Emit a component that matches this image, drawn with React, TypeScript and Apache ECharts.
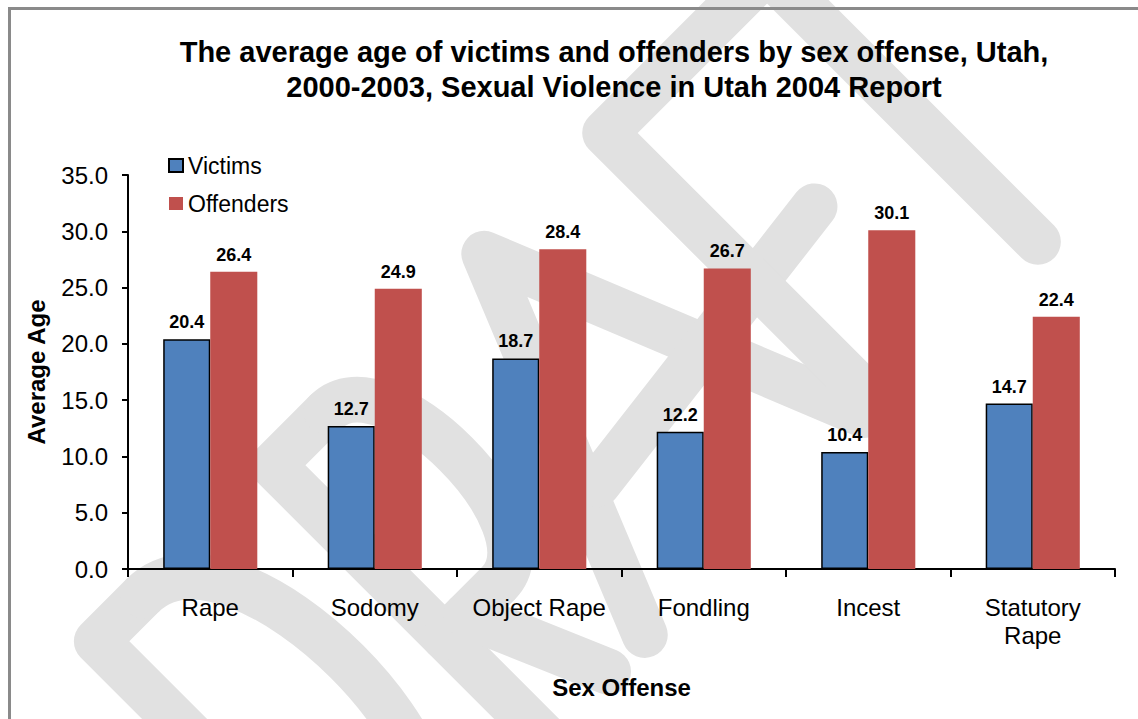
import React, { useEffect, useRef } from "react";
import * as echarts from "echarts";

// ---- data ----
const categories = ["Rape", "Sodomy", "Object Rape", "Fondling", "Incest", "Statutory\nRape"];
const victims = [20.4, 12.7, 18.7, 12.2, 10.4, 14.7];
const offenders = [26.4, 24.9, 28.4, 26.7, 30.1, 22.4];
const seriesNames = ["Victims", "Offenders"];
const yMin = 0;
const yMax = 35;
const yInterval = 5;
const titleText =
  "The average age of victims and offenders by sex offense, Utah,\n2000-2003, Sexual Violence in Utah 2004 Report";
const yAxisName = "Average Age";
const xAxisName = "Sex Offense";

const FONT = '"Liberation Sans", Arial, Helvetica, sans-serif';

// ---- watermark ("DRAFT", single-stroke letters, drawn in a rotated frame) ----
const YT = 522;
const YB = 905;
const WM = { stroke: "#e1e1e1", lineWidth: 46, lineCap: "round", lineJoin: "round", fill: null };

function wmPoly(points: number[][]) {
  return { type: "polyline", z: -10, silent: true, shape: { points }, style: WM };
}
function wmBez(x1: number, y1: number, cx1: number, cy1: number, cx2: number, cy2: number, x2: number, y2: number) {
  return {
    type: "bezierCurve",
    z: -10,
    silent: true,
    shape: { x1, y1, cpx1: cx1, cpy1: cy1, cpx2: cx2, cpy2: cy2, x2, y2 },
    style: WM,
  };
}

const watermarkChildren = [
  // D
  wmPoly([[-320, YT], [-385, YT], [-385, YB], [-320, YB]]),
  wmBez(-320, YT, -190, YT, -190, YB, -320, YB),
  // R
  wmPoly([[-136, YB], [-136, YT], [-60, YT]]),
  wmBez(-60, YT, 22, YT, 22, 765, -60, 765),
  wmPoly([[-60, 765], [-136, 765]]),
  wmPoly([[-105, 765], [-45, YB]]),
  // A
  wmPoly([[7, YB], [163, YT], [318, YB]]),
  wmPoly([[80, 765], [430, 722]]),
  // F + T
  wmPoly([[334, YB], [334, YT], [690, YT]]),
  wmPoly([[563, YT], [563, YB]]),
];

export default function App() {
  const ref = useRef<HTMLDivElement>(null);

  useEffect(() => {
    if (!ref.current) return;
    const chart = echarts.init(ref.current, null, { renderer: "svg" });

    const valueLabel = {
      show: true,
      position: "top",
      distance: 8,
      fontFamily: FONT,
      fontSize: 18,
      fontWeight: "bold",
      color: "#000",
      formatter: (p: any) => Number(p.value).toFixed(1),
    };

    const option: any = {
      animation: false,
      backgroundColor: "#ffffff",
      textStyle: { fontFamily: FONT, color: "#000" },
      title: {
        text: titleText,
        left: 614,
        top: 34,
        padding: 0,
        textAlign: "center",
        textStyle: {
          fontFamily: FONT,
          fontSize: 29,
          fontWeight: "bold",
          color: "#000",
          lineHeight: 35,
        },
      },
      legend: {
        orient: "vertical",
        left: 163,
        top: 149,
        itemWidth: 14,
        itemHeight: 13,
        itemGap: 15,
        icon: "rect",
        data: seriesNames,
        textStyle: { fontFamily: FONT, fontSize: 23, color: "#000" },
      },
      grid: { left: 128, right: 23, top: 175, bottom: 150, containLabel: false },
      xAxis: {
        type: "category",
        data: categories,
        name: xAxisName,
        nameLocation: "middle",
        nameGap: 106,
        nameTextStyle: { fontFamily: FONT, fontSize: 24, fontWeight: "bold", color: "#000" },
        axisLine: { show: true, lineStyle: { color: "#000", width: 2 } },
        axisTick: { show: true, length: 8, lineStyle: { color: "#000", width: 2 } },
        axisLabel: {
          fontFamily: FONT,
          fontSize: 24,
          color: "#000",
          lineHeight: 28,
          margin: 24,
          interval: 0,
        },
        splitLine: { show: false },
      },
      yAxis: {
        type: "value",
        min: yMin,
        max: yMax,
        interval: yInterval,
        name: yAxisName,
        nameLocation: "middle",
        nameGap: 80,
        nameTextStyle: { fontFamily: FONT, fontSize: 24, fontWeight: "bold", color: "#000" },
        axisLine: { show: true, lineStyle: { color: "#000", width: 2 } },
        axisTick: { show: true, length: 6, lineStyle: { color: "#000", width: 2 } },
        axisLabel: {
          fontFamily: FONT,
          fontSize: 24,
          color: "#000",
          margin: 20,
          formatter: (v: number) => v.toFixed(1),
        },
        splitLine: { show: false },
      },
      series: [
        {
          name: seriesNames[0],
          type: "bar",
          data: victims,
          barWidth: "28.6%",
          barGap: "0%",
          itemStyle: { color: "#4F81BD", borderColor: "#000", borderWidth: 1.5 },
          label: valueLabel,
        },
        {
          name: seriesNames[1],
          type: "bar",
          data: offenders,
          barWidth: "28.6%",
          barGap: "0%",
          itemStyle: { color: "#C0504D", borderWidth: 0 },
          label: valueLabel,
        },
      ],
      graphic: [
        {
          type: "group",
          x: 0,
          y: 0,
          rotation: Math.PI / 4,
          z: -10,
          silent: true,
          children: watermarkChildren,
        },
        {
          type: "rect",
          z: -9,
          silent: true,
          shape: { x: 9.5, y: 8.5, width: 1300, height: 900 },
          style: { fill: null, stroke: "#8a8a8a", lineWidth: 3 },
        },
      ],
    };

    chart.setOption(option);
    return () => chart.dispose();
  }, []);

  return (
    <div
      ref={ref}
      style={{ position: "fixed", left: 0, top: 0, width: 1138, height: 719, background: "#fff" }}
    />
  );
}
